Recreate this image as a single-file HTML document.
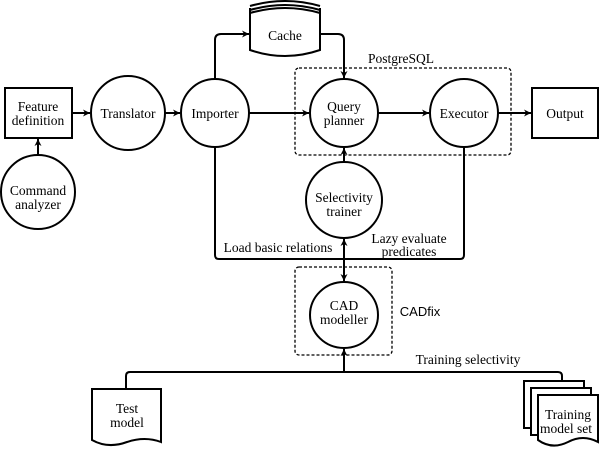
<!DOCTYPE html><html><head><style>body{margin:0;background:#fff}</style></head><body>
<svg width="600" height="450" xmlns="http://www.w3.org/2000/svg" font-family="Liberation Serif, serif" font-size="13.5" text-anchor="middle">
<defs><marker id="a" markerWidth="8" markerHeight="8" refX="7" refY="4" orient="auto" markerUnits="userSpaceOnUse"><path d="M0,0.5 L7,4 L0,7.5 L2,4z" fill="#000"/></marker></defs>
<g fill="none" stroke="#000" stroke-width="2">
<rect x="5" y="88" width="67" height="50" fill="#fff"/>
<rect x="532" y="88" width="66" height="50"/>
<circle cx="128" cy="113" r="37"/>
<circle cx="215" cy="113" r="34"/>
<circle cx="344" cy="113" r="34"/>
<circle cx="464" cy="113" r="34"/>
<circle cx="38" cy="192" r="37"/>
<circle cx="344" cy="200" r="38"/>
<ellipse cx="344" cy="315" rx="34" ry="33"/>
<path d="M250,8 V50 Q285,62 320,50 V8"/>
<path d="M250,6 Q285,-4 320,6 M250,10 Q285,0 320,10 M250,13 Q285,3 320,13"/>
<path d="M72,113 H90" marker-end="url(#a)"/>
<path d="M165,113 H180" marker-end="url(#a)"/>
<path d="M249,113 H309" marker-end="url(#a)"/>
<path d="M378,113 H429" marker-end="url(#a)"/>
<path d="M498,113 H531" marker-end="url(#a)"/>
<path d="M38,155 V139" marker-end="url(#a)"/>
<path d="M215,79 V40 Q215,34 221,34 H249" marker-end="url(#a)"/>
<path d="M320,34 H338 Q344,34 344,40 V78" marker-end="url(#a)"/>
<path d="M344,162 V148" marker-end="url(#a)"/>
<path d="M215,147 V255 Q215,259 219,259 H460 Q464,259 464,255 V147"/>
<path d="M344,259 V239" marker-end="url(#a)"/>
<path d="M344,259 V281" marker-end="url(#a)"/>
<path d="M344,372 V349" marker-end="url(#a)"/>
<path d="M126,389 V376 Q126,372 130,372 H558 Q562,372 562,376 V381"/>
<path d="M92,389 H161 V442 Q145,436 127,442 Q108,449 92,440 Z"/>
</g>
<g fill="none" stroke="#000" stroke-width="1.3" stroke-dasharray="3,2">
<rect x="295" y="68" width="216" height="87" rx="4"/>
<rect x="295" y="267" width="97" height="88" rx="4"/>
</g>
<g stroke="#000" stroke-width="2" fill="#fff">
<path d="M524,381 H584 V428 H524 Z"/>
<path d="M531,388 H591 V435 H531 Z"/>
<path d="M538,395 H598 V442 Q583,434 568,442 Q552,450 538,440 Z"/>
</g>
<g fill="#000">
<text x="38" y="111">Feature</text><text x="38" y="125">definition</text>
<text x="128" y="118">Translator</text>
<text x="215" y="118">Importer</text>
<text x="285" y="40">Cache</text>
<text x="401" y="63">PostgreSQL</text>
<text x="344" y="111">Query</text><text x="344" y="125">planner</text>
<text x="464" y="118">Executor</text>
<text x="565" y="118">Output</text>
<text x="38" y="195">Command</text><text x="38" y="209">analyzer</text>
<text x="344" y="202">Selectivity</text><text x="344" y="216">trainer</text>
<text x="278" y="252">Load basic relations</text>
<text x="409" y="243">Lazy evaluate</text><text x="409" y="256">predicates</text>
<text x="344" y="310">CAD</text><text x="344" y="324">modeller</text>
<text x="420" y="316" font-family="Liberation Sans, sans-serif" font-size="13">CADfix</text>
<text x="468" y="364">Training selectivity</text>
<text x="127" y="413">Test</text><text x="127" y="427">model</text>
<text x="568" y="419">Training</text><text x="566" y="433">model set</text>
</g>
</svg></body></html>
